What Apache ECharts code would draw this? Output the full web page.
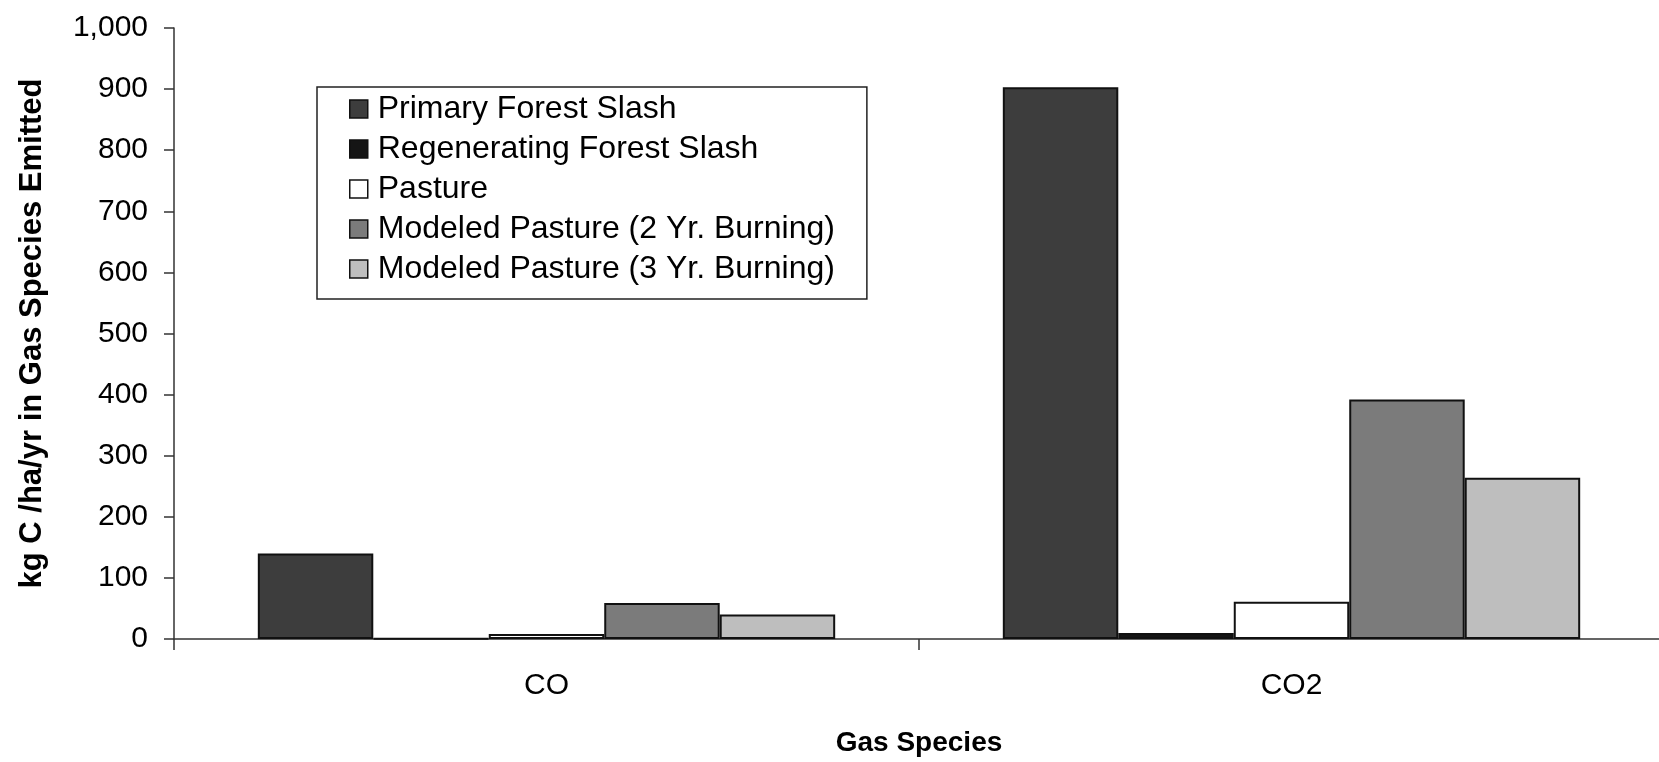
<!DOCTYPE html>
<html>
<head>
<meta charset="utf-8">
<script src="https://cdn.jsdelivr.net/npm/echarts@6/dist/echarts.min.js"></script>
<style>
  html, body { margin: 0; padding: 0; background: #fff; }
  #chart { width: 1659px; height: 762px; }
</style>
</head>
<body>
<div id="chart"></div>
<script>
const categories = ['CO', 'CO2'];
const seriesNames = [
  'Primary Forest Slash',
  'Regenerating Forest Slash',
  'Pasture',
  'Modeled Pasture (2 Yr. Burning)',
  'Modeled Pasture (3 Yr. Burning)'
];
const primaryForestSlash = [140, 903];
const regeneratingForestSlash = [1, 10];
const pasture = [8, 61];
const modeledPasture2Yr = [59, 392];
const modeledPasture3Yr = [40, 264];
const seriesValues = [primaryForestSlash, regeneratingForestSlash, pasture, modeledPasture2Yr, modeledPasture3Yr];
const seriesColors = ['#3d3d3d', '#151515', '#ffffff', '#7b7b7b', '#bebebe'];
const yAxisTitle = 'kg C /ha/yr in Gas Species Emitted';
const xAxisTitle = 'Gas Species';

const FONT = '"Liberation Sans", Arial, Helvetica, sans-serif';

const chart = echarts.init(document.getElementById('chart'), null, { renderer: 'canvas' });

const series = seriesNames.map((name, i) => ({
  name: name,
  type: 'bar',
  data: seriesValues[i],
  barGap: '0%',
  barCategoryGap: '22.5%',
  itemStyle: {
    color: seriesColors[i],
    borderColor: '#111',
    borderWidth: 2
  },
  emphasis: { disabled: true },
  animation: false
}));

chart.setOption({
  backgroundColor: '#ffffff',
  animation: false,
  textStyle: { fontFamily: FONT },
  grid: { left: 174, right: -5, top: 28, bottom: 123, containLabel: false, outerBoundsMode: 'none' },
  legend: {
    orient: 'vertical',
    left: 317,
    top: 87,
    padding: [6, 32, 14, 32],
    itemGap: 8,
    itemWidth: 18,
    itemHeight: 18,
    icon: 'rect',
    borderColor: '#222',
    borderWidth: 1.5,
    backgroundColor: '#fff',
    data: seriesNames,
    selectedMode: false,
    textStyle: { fontFamily: FONT, fontSize: 32, color: '#000', padding: [0, 0, 0, 5] },
    itemStyle: { borderColor: '#111', borderWidth: 1.5 }
  },
  xAxis: {
    type: 'category',
    data: categories,
    name: xAxisTitle,
    nameLocation: 'middle',
    nameGap: 90,
    nameTextStyle: { fontFamily: FONT, fontSize: 28, fontWeight: 'bold', color: '#000' },
    axisLine: { lineStyle: { color: '#333', width: 1.5 } },
    axisTick: { show: true, length: 11, inside: false, lineStyle: { color: '#333', width: 1.5 } },
    axisLabel: { margin: 32, fontFamily: FONT, fontSize: 30, color: '#000' },
    splitLine: { show: false }
  },
  yAxis: {
    type: 'value',
    min: 0,
    max: 1000,
    interval: 100,
    name: yAxisTitle,
    nameLocation: 'middle',
    nameRotate: 90,
    nameGap: 126,
    nameTextStyle: { fontFamily: FONT, fontSize: 31, fontWeight: 'bold', color: '#000' },
    axisLine: { show: true, lineStyle: { color: '#333', width: 1.5 } },
    axisTick: { show: true, length: 10, inside: false, lineStyle: { color: '#333', width: 1.5 } },
    axisLabel: {
      margin: 26,
      fontFamily: FONT,
      fontSize: 30,
      color: '#000',
      formatter: v => v.toString().replace(/\B(?=(\d{3})+(?!\d))/g, ',')
    },
    splitLine: { show: false }
  },
  series: series
});
</script>
</body>
</html>
